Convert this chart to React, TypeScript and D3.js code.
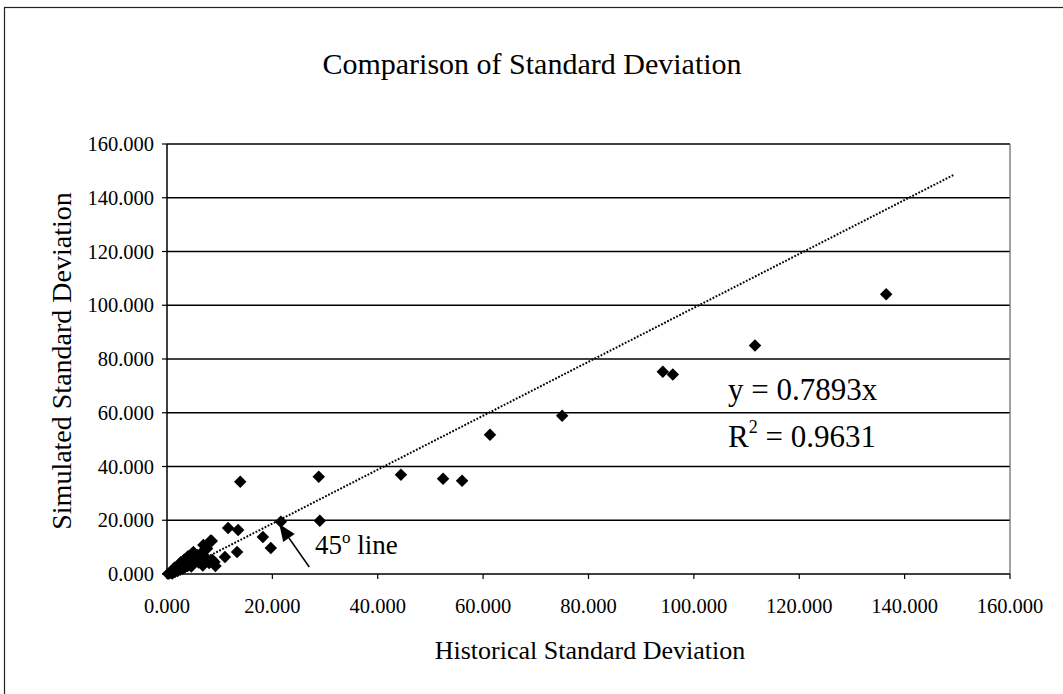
import React from "react";
import * as d3 from "d3";

const title = "Comparison of Standard Deviation";
const xTitle = "Historical Standard Deviation";
const yTitle = "Simulated Standard Deviation";
const tickValues = [0, 20, 40, 60, 80, 100, 120, 140, 160];

// Historical (x) and simulated (y) standard deviations
const histSD = [
  136.5, 111.6, 94.1, 96.0, 75.0, 61.3, 56.0, 52.4, 44.4, 28.8, 13.9, 29.0, 21.6,
  11.6, 13.5, 18.2, 19.7, 13.3, 11.0, 8.5,
  0.2, 0.5, 0.8, 1.0, 1.2, 1.5, 1.7, 2.0, 2.2, 2.5, 2.7, 3.0, 3.2, 3.4, 3.6, 3.9,
  4.1, 4.4, 4.6, 4.9, 5.2, 5.5, 5.8, 6.0, 6.3, 6.6, 7.0, 7.3, 7.6, 8.0, 8.3, 8.6,
  9.0, 3.3, 4.0, 2.6, 5.0, 6.9, 1.4, 2.9, 4.6, 6.8, 9.2,
];
const simSD = [
  104.1, 85.0, 75.3, 74.2, 58.9, 51.8, 34.7, 35.4, 36.9, 36.2, 34.3, 19.8, 19.4,
  17.1, 16.4, 13.8, 9.7, 8.2, 6.3, 12.3,
  0.1, 0.3, 0.6, 0.2, 1.0, 0.7, 1.5, 1.1, 2.0, 1.6, 2.6, 2.0, 3.2, 2.5, 3.9, 3.0,
  4.6, 3.5, 5.4, 4.2, 6.2, 5.0, 7.0, 4.3, 5.8, 8.0, 4.8, 6.2, 9.5, 4.1, 12.5, 5.2,
  4.5, 5.4, 6.6, 4.4, 8.2, 10.8, 2.3, 4.0, 2.8, 3.2, 3.0,
];

// 45 degree reference line
const refLineX = [1.3, 149.5];
const refLineY = [0, 148.7];

const eqText = "y = 0.7893x";
const r2Value = "= 0.9631";
const annotationText = "45";
const arrowTail = [27.0, 2.6];
const arrowTip = [21.3, 18.6];

const FONT = "'Liberation Serif', 'Times New Roman', serif";

export default function App() {
  const W = 1063;
  const H = 694;
  const x = d3.scaleLinear().domain([0, 160]).range([167, 1010]);
  const y = d3.scaleLinear().domain([0, 160]).range([574, 144]);
  const fmt = d3.format(".3f");

  const diamond = d3.symbol().type(d3.symbolSquare).size(78);
  const pts = histSD.map((v, i) => [v, simSD[i]]);

  const line = d3
    .line<number>()
    .x((_, i) => x(refLineX[i]))
    .y((_, i) => y(refLineY[i]));

  // arrow geometry
  const tx = x(arrowTip[0]);
  const ty = y(arrowTip[1]);
  const sx = x(arrowTail[0]);
  const sy = y(arrowTail[1]);
  const ang = Math.atan2(ty - sy, tx - sx);
  const headLen = 17;
  const headW = 7;
  const bx = tx - headLen * Math.cos(ang);
  const by = ty - headLen * Math.sin(ang);
  const px = -Math.sin(ang);
  const py = Math.cos(ang);
  const head = `M${tx},${ty}L${bx + headW * px},${by + headW * py}L${bx - headW * px},${by - headW * py}Z`;

  return (
    <svg
      width={W}
      height={H}
      style={{ position: "absolute", left: 0, top: 0, background: "#fff" }}
      fontFamily={FONT}
    >
      <rect x={0} y={0} width={W} height={H} fill="#fff" />
      <rect x={4.5} y={7.5} width={W + 10} height={H + 10} fill="none" stroke="#222" strokeWidth={1.2} />
      <text x={532} y={74} textAnchor="middle" fontSize={30} fill="#000">
        {title}
      </text>

      {/* gridlines */}
      {tickValues.slice(1).map((t) => (
        <line key={"g" + t} x1={x(0)} x2={x(160)} y1={y(t)} y2={y(t)} stroke="#000" strokeWidth={1.5} />
      ))}
      {/* right border */}
      <line x1={x(160)} x2={x(160)} y1={y(160)} y2={y(0)} stroke="#666" strokeWidth={1.2} />
      {/* axes */}
      <line x1={x(0)} x2={x(0)} y1={y(160)} y2={y(0)} stroke="#000" strokeWidth={1.5} />
      <line x1={x(0)} x2={x(160)} y1={y(0)} y2={y(0)} stroke="#000" strokeWidth={1.5} />

      {tickValues.map((t) => (
        <g key={"y" + t}>
          <line x1={x(0) - 5} x2={x(0)} y1={y(t)} y2={y(t)} stroke="#000" strokeWidth={1.2} />
          <text x={x(0) - 13} y={y(t)} dy="0.35em" textAnchor="end" fontSize={20.5} fill="#000">
            {fmt(t)}
          </text>
        </g>
      ))}
      {tickValues.map((t) => (
        <g key={"x" + t}>
          <line x1={x(t)} x2={x(t)} y1={y(0)} y2={y(0) + 5} stroke="#000" strokeWidth={1.2} />
          <text x={x(t)} y={613} textAnchor="middle" fontSize={20.5} fill="#000">
            {fmt(t)}
          </text>
        </g>
      ))}

      <text x={590} y={659} textAnchor="middle" fontSize={26} fill="#000">
        {xTitle}
      </text>
      <text
        transform={`translate(71,${361}) rotate(-90)`}
        textAnchor="middle"
        fontSize={28}
        fill="#000"
      >
        {yTitle}
      </text>

      {/* 45 degree line */}
      <path
        d={line(refLineX) || ""}
        fill="none"
        stroke="#000"
        strokeWidth={2}
        strokeDasharray="1.8 1.6"
      />

      {/* points */}
      {pts.map((p, i) => (
        <path
          key={"p" + i}
          d={diamond() || ""}
          transform={`translate(${x(p[0])},${y(p[1])}) rotate(45)`}
          fill="#000"
        />
      ))}

      {/* arrow annotation */}
      <line x1={sx} y1={sy} x2={bx} y2={by} stroke="#000" strokeWidth={1.5} />
      <path d={head} fill="#000" />
      <text x={315} y={554} fontSize={27} fill="#000">
        {annotationText}
        <tspan fontSize={17} dy={-11}>o</tspan>
        <tspan dy={11}> line</tspan>
      </text>

      {/* regression text */}
      <text x={728} y={400} fontSize={31} fill="#000">
        {eqText}
      </text>
      <text x={728} y={447} fontSize={31} fill="#000">
        R<tspan fontSize={18} dy={-14}>2</tspan>
        <tspan dy={14}> {r2Value}</tspan>
      </text>
    </svg>
  );
}
